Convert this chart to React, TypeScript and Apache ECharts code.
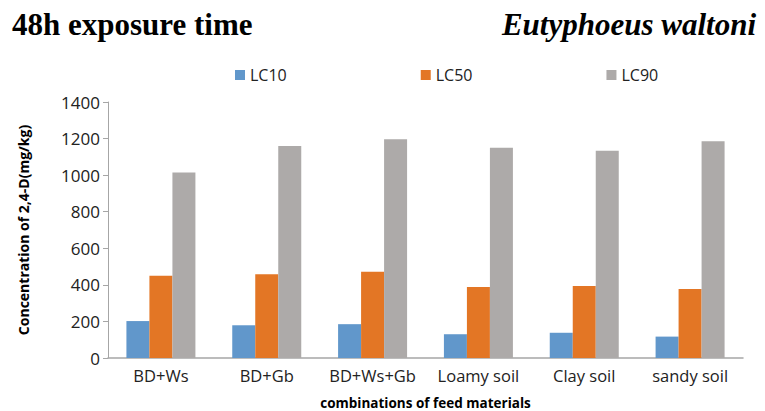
import React, { useEffect, useRef } from "react";
import * as echarts from "echarts";

const categories = ["BD+Ws", "BD+Gb", "BD+Ws+Gb", "Loamy soil", "Clay soil", "sandy soil"];
const lc10 = [202, 179, 185, 130, 138, 117];
const lc50 = [450, 458, 472, 388, 394, 377];
const lc90 = [1015, 1159, 1196, 1150, 1134, 1186];
const seriesNames = ["LC10", "LC50", "LC90"];
const colors = ["#6197cb", "#e37625", "#adaaa9"];

export default function App() {
  const ref = useRef<HTMLDivElement>(null);
  useEffect(() => {
    if (!ref.current) return;
    const chart = echarts.init(ref.current, undefined, { renderer: "svg" });
    const font = "Open Sans";
    const data = [lc10, lc50, lc90];
    chart.setOption({
      animation: false,
      backgroundColor: "#ffffff",
      title: [
        {
          text: "48h exposure time",
          left: 7,
          top: 4,
          textStyle: { fontFamily: "Liberation Serif", fontWeight: "bold", fontSize: 31, color: "#000" },
        },
        {
          text: "Eutyphoeus waltoni",
          right: 4,
          top: 4,
          textStyle: { fontFamily: "Liberation Serif", fontWeight: "bold", fontStyle: "italic", fontSize: 31, color: "#000" },
        },
      ],
      legend: {
        top: 62,
        left: 230,
        itemWidth: 10,
        itemHeight: 10,
        itemGap: 134,
        icon: "rect",
        textStyle: { fontFamily: font, fontSize: 16, color: "#222" },
        data: seriesNames,
      },
      grid: { left: 108, right: 22, top: 102, bottom: 53, containLabel: false, outerBoundsMode: "none" },
      xAxis: {
        type: "category",
        data: categories,
        name: "combinations of feed materials",
        nameLocation: "middle",
        nameGap: 38,
        nameTextStyle: { fontFamily: font, fontWeight: "bold", fontSize: 13.5, color: "#000" },
        axisLine: { lineStyle: { color: "#a6a6a6", width: 1.5 } },
        axisTick: { show: false },
        axisLabel: { fontFamily: font, fontSize: 16.5, color: "#222", margin: 9, interval: 0 },
      },
      yAxis: {
        type: "value",
        min: 0,
        max: 1400,
        interval: 200,
        name: "Concentration of 2,4-D(mg/kg)",
        nameLocation: "middle",
        nameGap: 78,
        nameTextStyle: { fontFamily: font, fontWeight: "bold", fontSize: 14, color: "#000" },
        axisLine: { show: true, lineStyle: { color: "#a6a6a6", width: 1 } },
        axisTick: { show: true, length: 5, lineStyle: { color: "#a6a6a6" } },
        splitLine: { show: false },
        axisLabel: { fontFamily: font, fontSize: 17, color: "#222", margin: 8, formatter: (v: number) => String(v) },
      },
      series: seriesNames.map((name, i) => ({
        name,
        type: "bar",
        data: data[i],
        barWidth: 23,
        barGap: "0%",
        itemStyle: { color: colors[i] },
      })),
    });
    return () => chart.dispose();
  }, []);
  return <div ref={ref} style={{ width: 765, height: 411, position: "absolute", left: 0, top: 0 }} />;
}
